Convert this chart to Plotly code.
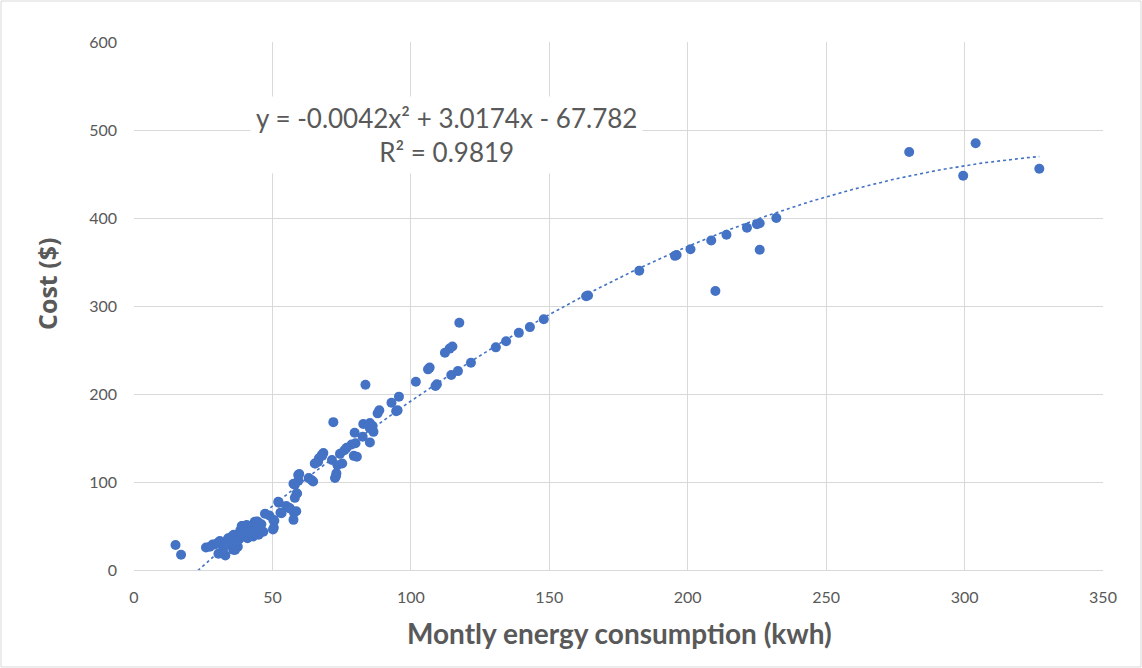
import numpy as np
import plotly.graph_objects as go

# Monthly energy consumption (kwh) and cost ($)
energy_kwh = [
    327, 304, 299.5, 280, 232, 226, 225, 221.4, 214, 208.5, 226, 210, 201, 196, 195.4,
    182.5, 164, 163.3, 148, 143, 139, 134.4, 130.7, 121.7, 117.5, 117, 114.6, 115, 114,
    112.3, 109.4, 108.9, 106.8, 106.2, 101.8, 95.7, 94.7, 95.2, 93, 88.6, 88, 83.6, 86.2,
    85.2, 85.2, 82.8, 82.6, 85.2, 79.7, 78.6, 79.4, 80.5, 76.8, 72, 74.4, 75.2, 73.1, 72.6,
    71.5, 68.4, 66.8, 65.5, 64.7, 63.1, 59.7, 59.4, 58.1, 57.6, 58.9, 58.1, 58.6, 57.8,
    57.6, 56, 55, 52.3, 52.9, 50.7, 50.5, 50.2, 48.9, 47.3, 44.7, 43.6, 45.8, 42.3, 41,
    39.2, 38.4, 35.8, 33, 30.5, 31, 28.4, 26, 15, 17,
    76, 73.5, 80, 86.5, 68, 73, 66.5, 65.3, 67.8, 59.3, 64.2, 58.7,
    32.1, 33.9, 35.3, 37.1, 37.5, 36.5, 38.9, 40.7, 42.5, 43.7, 45.5, 46.7, 29.2, 30.3,
    27.4, 34, 36, 38, 39, 40, 41, 42, 44, 45, 46, 35, 33, 37, 39, 43, 44.3, 40.7, 50.3,
    53.3, 56.3, 52.1,
]
cost_usd = [
    456, 485, 448, 475, 400, 394, 393, 389, 381, 374.5, 364, 317, 364.5, 358, 357,
    340, 312, 311, 285, 276, 269.5, 260, 253, 235.6, 281, 226, 221.6, 254, 251.6,
    246.8, 211, 209, 230, 228, 214, 197, 180.5, 181.4, 190, 181.5, 178, 210.5, 163.5,
    161, 167, 166, 151.5, 145, 156, 142.7, 129.7, 128.7, 139, 168, 132, 121, 110, 104.5,
    125, 133, 127, 121, 100.6, 104.5, 109, 101.6, 97, 98, 87, 82, 66.8, 65,
    57, 70.6, 72.6, 76.5, 65, 56, 48, 46, 62, 64, 54.7, 54.7, 45, 42.6, 38.7,
    50, 45, 23, 16.5, 18.4, 33, 29, 25.6, 28.5, 17.4,
    136, 119, 144, 157, 130, 107, 123, 121, 130.7, 108, 102, 87,
    22.7, 34, 37.9, 37.9, 26.5, 22.7, 50, 45.5, 41.7, 53, 47.4, 43.5, 29, 31,
    26.5, 36, 40, 35, 39, 42, 36, 46, 49, 40, 52, 30, 28, 32, 42, 38, 55, 51, 57,
    64.4, 70, 77.6,
]

# Polynomial trendline coefficients shown on the chart
coef_a, coef_b, coef_c = -0.0042, 3.0174, -67.782
r_squared = 0.9819

x_ticks = [0, 50, 100, 150, 200, 250, 300, 350]
y_ticks = [0, 100, 200, 300, 400, 500, 600]

xs = np.array(energy_kwh)
trend_x = np.linspace(xs.min(), xs.max(), 300)
trend_y = coef_a * trend_x**2 + coef_b * trend_x + coef_c

blue = "#4472C4"
grid = "#D9D9D9"
txt = "#595959"
font_family = "Lato, 'Open Sans', sans-serif"

fig = go.Figure()
fig.add_trace(go.Scatter(
    x=trend_x, y=trend_y, mode="lines",
    line=dict(color=blue, width=1.6, dash="dot"),
    hoverinfo="skip", showlegend=False,
))
fig.add_trace(go.Scatter(
    x=energy_kwh, y=cost_usd, mode="markers",
    marker=dict(color=blue, size=10, line=dict(width=0)),
    showlegend=False,
))

W, H = 1142, 668
ml, mr, mt, mb = 134, 39, 42, 98
pw, ph = W - ml - mr, H - mt - mb


def px_to_paper(px, py):
    return (px - ml) / pw, (H - mb - py) / ph


xt_x, xt_y = px_to_paper(619, 633)
yt_x, yt_y = px_to_paper(47, 284)

fig.update_layout(
    width=W, height=H,
    margin=dict(l=ml, r=mr, t=mt, b=mb),
    paper_bgcolor="white", plot_bgcolor="white",
    font=dict(family=font_family, color=txt, size=16),
    xaxis=dict(
        range=[0, 350], tickvals=x_ticks, showgrid=True, gridcolor=grid, gridwidth=1,
        zeroline=False, showline=True, linecolor=grid, linewidth=1, ticks="",
        tickfont=dict(size=16, color=txt), ticklabelstandoff=13,
    ),
    yaxis=dict(
        range=[0, 600], tickvals=y_ticks, showgrid=True, gridcolor=grid, gridwidth=1,
        zeroline=False, showline=False, ticks="",
        tickfont=dict(size=16, color=txt), ticklabelstandoff=16,
    ),
    annotations=[
        dict(
            x=112.8, y=494, xref="x", yref="y",
            text=f"y = {coef_a}x² + {coef_b}x - {abs(coef_c)}<br>R² = {r_squared}",
            showarrow=False, font=dict(size=26, color=txt, family=font_family),
            bgcolor="white", borderpad=5, align="center",
        ),
        dict(
            x=xt_x, y=xt_y, xref="paper", yref="paper",
            text="<b>Montly energy consumption (kwh)</b>", showarrow=False,
            font=dict(size=28, color=txt, family=font_family),
            xanchor="center", yanchor="middle",
        ),
        dict(
            x=yt_x, y=yt_y, xref="paper", yref="paper",
            text="<b>Cost ($)</b>", showarrow=False, textangle=-90,
            font=dict(size=25, color=txt, family="'Open Sans', sans-serif"),
            xanchor="center", yanchor="middle",
        ),
    ],
    shapes=[dict(
        type="rect", xref="paper", yref="paper",
        x0=(1 - ml) / pw, x1=(W - ml - 1) / pw,
        y0=-(mb - 1) / ph, y1=1 + (mt - 1) / ph,
        line=dict(color="#D9D9D9", width=1), fillcolor="rgba(0,0,0,0)",
    )],
)

fig.write_html("out.html")
